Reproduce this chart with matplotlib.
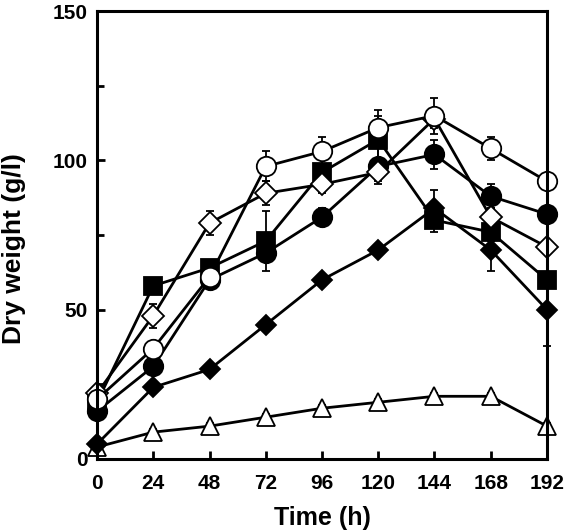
import matplotlib.pyplot as plt
from matplotlib.ticker import MultipleLocator

plt.rcParams['font.family'] = ['Liberation Sans', 'DejaVu Sans']
plt.rcParams['font.weight'] = 'bold'

time_h = [0, 24, 48, 72, 96, 120, 144, 168, 192]

# dry weight (g/l) per culture
tri_open = [4, 9, 11, 14, 17, 19, 21, 21, 11]
tri_err = [1, 1, 1, 1, 1, 1, 1, 1, 1]
sq_fill = [19, 58, 64, 73, 96, 107, 80, 76, 60]
sq_err = [1, 2, 2, 10, 2, 8, 4, 3, 2]
circ_fill = [16, 31, 60, 69, 81, 98, 102, 88, 82]
circ_fill_err = [1, 2, 2, 2, 3, 6, 5, 4, 2]
dia_fill = [5, 24, 30, 45, 60, 70, 84, 70, 50]
dia_fill_err = [1, 1, 1, 1, 2, 2, 6, 7, 12]
dia_open = [22, 48, 79, 89, 92, 96, 114, 81, 71]
dia_open_err = [1, 4, 4, 4, 3, 3, 3, 3, 2]
circ_open = [20, 37, 61, 98, 103, 111, 115, 104, 93]
circ_open_err = [1, 2, 2, 5, 5, 6, 6, 4, 2]

series = [
    (tri_open, tri_err, '^', 'white', 13),
    (sq_fill, sq_err, 's', 'black', 13),
    (circ_fill, circ_fill_err, 'o', 'black', 14),
    (dia_fill, dia_fill_err, 'D', 'black', 10),
    (dia_open, dia_open_err, 'D', 'white', 11),
    (circ_open, circ_open_err, 'o', 'white', 14),
]

fig = plt.figure(figsize=(5.66, 5.31), dpi=100)
ax = fig.add_axes([0.1714, 0.1356, 0.795, 0.8434])

for vals, err, mk, fc, ms in series:
    ax.errorbar(time_h, vals, yerr=err, color='black', linewidth=2.0,
                marker=mk, markersize=ms, markerfacecolor=fc,
                markeredgecolor='black', markeredgewidth=1.3,
                ecolor='black', elinewidth=1.3, capsize=3, capthick=1.3,
                clip_on=False)

ax.set_xlim(0, 192)
ax.set_ylim(0, 150)
ax.xaxis.set_major_locator(MultipleLocator(24))
ax.yaxis.set_major_locator(MultipleLocator(50))
ax.yaxis.set_minor_locator(MultipleLocator(25))
ax.tick_params(which='both', direction='in', width=2, labelsize=15)
ax.tick_params(which='major', length=6)
ax.tick_params(axis='x', which='major', pad=11)
ax.tick_params(axis='y', which='major', pad=7)
ax.tick_params(which='minor', length=5)
for s in ax.spines.values():
    s.set_linewidth(2.2)

ax.set_xlabel('Time (h)', fontsize=18, fontweight='bold', labelpad=9)
ax.set_ylabel('Dry weight (g/l)', fontsize=19, fontweight='bold')
ax.yaxis.set_label_coords(-0.158, 0.47)

fig.savefig('out.png', dpi=100)
